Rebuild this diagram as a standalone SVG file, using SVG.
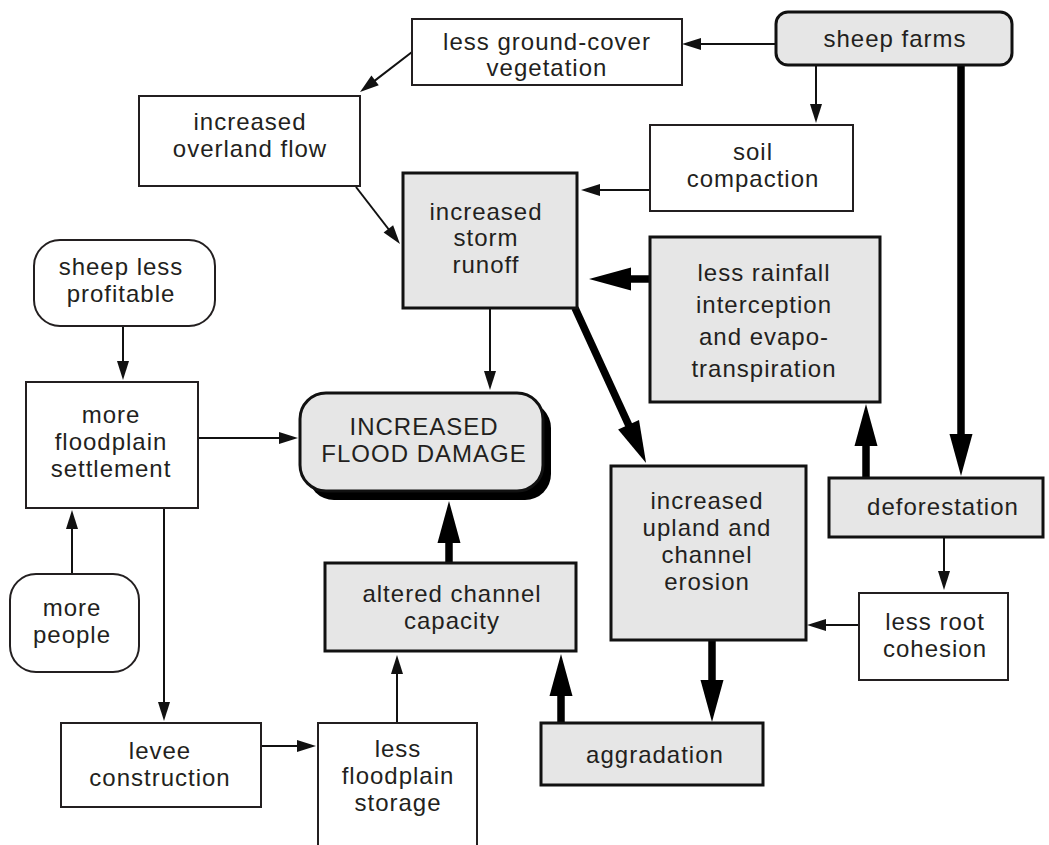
<svg xmlns="http://www.w3.org/2000/svg" width="1049" height="845" viewBox="0 0 1049 845">
<defs>
<style>
text{font-family:"Liberation Sans",Arial,Helvetica,sans-serif;font-size:24px;letter-spacing:1px;fill:#231f20;text-anchor:middle}
.w{fill:#fff;stroke:#231f20;stroke-width:2}
.g{fill:#e6e6e6;stroke:#111;stroke-width:3}
.thin{stroke:#111;stroke-width:2;fill:none}
.thick{stroke:#000;stroke-width:7.5;fill:none}
</style>
<marker id="ah" markerUnits="userSpaceOnUse" markerWidth="20" markerHeight="14" refX="2" refY="6" orient="auto" overflow="visible">
<path d="M0,0 L19,6 L0,12 z" fill="#111"/>
</marker>
<marker id="AH" markerUnits="userSpaceOnUse" markerWidth="44" markerHeight="24" refX="2" refY="11.5" orient="auto" overflow="visible">
<path d="M0,0 L42,11.5 L0,23 z" fill="#000"/>
</marker>
</defs>
<rect width="1049" height="845" fill="#fff"/>

<g id="connectors">
<line class="thin" x1="776" y1="44" x2="699" y2="44" marker-end="url(#ah)"/>
<line class="thin" x1="816" y1="65" x2="816" y2="106" marker-end="url(#ah)"/>
<line class="thin" x1="412" y1="52" x2="373.5" y2="81.6" marker-end="url(#ah)"/>
<line class="thin" x1="356" y1="187" x2="389.6" y2="230.5" marker-end="url(#ah)"/>
<line class="thin" x1="650" y1="190" x2="598" y2="190" marker-end="url(#ah)"/>
<line class="thin" x1="490" y1="308" x2="490" y2="373" marker-end="url(#ah)"/>
<line class="thin" x1="123" y1="326" x2="123" y2="363" marker-end="url(#ah)"/>
<line class="thin" x1="198" y1="438" x2="281" y2="438" marker-end="url(#ah)"/>
<line class="thin" x1="72" y1="574" x2="72" y2="527" marker-end="url(#ah)"/>
<line class="thin" x1="164" y1="508" x2="164" y2="704" marker-end="url(#ah)"/>
<line class="thin" x1="261" y1="746" x2="299" y2="746" marker-end="url(#ah)"/>
<line class="thin" x1="397" y1="723" x2="397" y2="672" marker-end="url(#ah)"/>
<line class="thin" x1="859" y1="625" x2="824" y2="625" marker-end="url(#ah)"/>
<line class="thin" x1="944" y1="537" x2="944" y2="573" marker-end="url(#ah)"/>
<line class="thick" x1="650" y1="279" x2="629" y2="279" marker-end="url(#AH)"/>
<line class="thick" x1="575" y1="308" x2="629.4" y2="426.6" marker-end="url(#AH)"/>
<line class="thick" x1="961" y1="65" x2="961" y2="436" marker-end="url(#AH)"/>
<line class="thick" x1="866" y1="478" x2="866" y2="444" marker-end="url(#AH)"/>
<line class="thick" x1="712" y1="640" x2="712" y2="682" marker-end="url(#AH)"/>
<line class="thick" x1="561" y1="723" x2="561" y2="694" marker-end="url(#AH)"/>
<line class="thick" x1="449" y1="563" x2="449" y2="541" marker-end="url(#AH)"/>
</g>

<g id="ground-cover">
<rect class="w" x="412" y="19" width="270" height="66"/>
<text x="547" y="50">less ground-cover</text>
<text x="547" y="76">vegetation</text>
</g>

<g id="sheep-farms">
<rect class="g" x="776" y="12" width="236" height="53" rx="12"/>
<text x="895" y="47">sheep farms</text>
</g>

<g id="overland-flow">
<rect class="w" x="139" y="96" width="221" height="90"/>
<text x="250" y="130">increased</text>
<text x="250" y="157">overland flow</text>
</g>

<g id="soil-compaction">
<rect class="w" x="650" y="125" width="203" height="86"/>
<text x="753" y="160">soil</text>
<text x="753" y="187">compaction</text>
</g>

<g id="storm-runoff">
<rect class="g" x="403" y="173" width="174" height="135"/>
<text x="486" y="220">increased</text>
<text x="486" y="246">storm</text>
<text x="486" y="273">runoff</text>
</g>

<g id="rainfall-interception">
<rect class="g" x="650" y="237" width="230" height="165"/>
<text x="764" y="281">less rainfall</text>
<text x="764" y="313">interception</text>
<text x="764" y="345">and evapo-</text>
<text x="764" y="377">transpiration</text>
</g>

<g id="sheep-less-profitable">
<rect class="w" x="34" y="240" width="181" height="86" rx="26"/>
<text x="121" y="275">sheep less</text>
<text x="121" y="302">profitable</text>
</g>

<g id="floodplain-settlement">
<rect class="w" x="26" y="382" width="172" height="126"/>
<text x="111" y="423">more</text>
<text x="111" y="450">floodplain</text>
<text x="111" y="477">settlement</text>
</g>

<g id="flood-damage">
<rect x="308" y="402" width="243" height="98" rx="26" fill="#000"/>
<rect class="g" x="300" y="393" width="243" height="98" rx="26"/>
<text x="424" y="435">INCREASED</text>
<text x="424" y="462">FLOOD DAMAGE</text>
</g>

<g id="upland-erosion">
<rect class="g" x="611" y="466" width="195" height="174"/>
<text x="707" y="509">increased</text>
<text x="707" y="536">upland and</text>
<text x="707" y="563">channel</text>
<text x="707" y="590">erosion</text>
</g>

<g id="deforestation">
<rect class="g" x="829" y="478" width="214" height="59"/>
<text x="943" y="515">deforestation</text>
</g>

<g id="root-cohesion">
<rect class="w" x="859" y="593" width="149" height="87"/>
<text x="935" y="630">less root</text>
<text x="935" y="657">cohesion</text>
</g>

<g id="more-people">
<rect class="w" x="10" y="574" width="129" height="98" rx="26"/>
<text x="72" y="616">more</text>
<text x="72" y="643">people</text>
</g>

<g id="channel-capacity">
<rect class="g" x="325" y="563" width="251" height="88"/>
<text x="452" y="602">altered channel</text>
<text x="452" y="629">capacity</text>
</g>

<g id="levee-construction">
<rect class="w" x="61" y="723" width="200" height="84"/>
<text x="160" y="759">levee</text>
<text x="160" y="786">construction</text>
</g>

<g id="floodplain-storage">
<path class="w" d="M318,845 L318,723 L477,723 L477,845"/>
<text x="398" y="757">less</text>
<text x="398" y="784">floodplain</text>
<text x="398" y="811">storage</text>
</g>

<g id="aggradation">
<rect class="g" x="541" y="723" width="222" height="62"/>
<text x="655" y="763">aggradation</text>
</g>
</svg>
